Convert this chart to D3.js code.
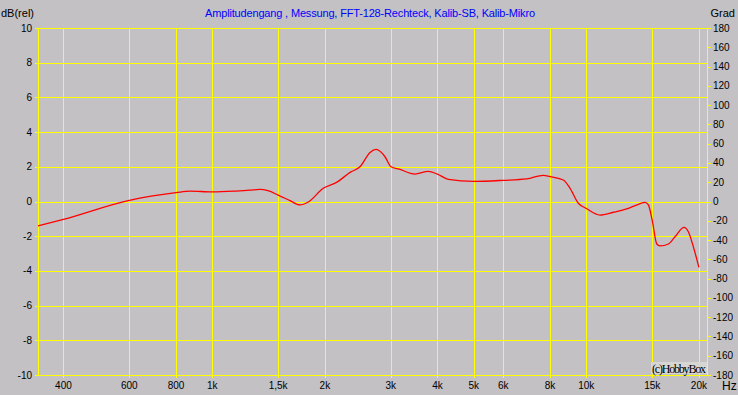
<!DOCTYPE html>
<html>
<head>
<meta charset="utf-8">
<script src="https://cdn.jsdelivr.net/npm/d3@7"></script>
<style>
  body { margin: 0; background: #c3c1c4; }
  svg { display: block; }
  .lbl { font-family: "Liberation Sans", Arial, sans-serif; font-size: 10px; fill: #000; }
</style>
</head>
<body>
<svg id="main_svg_container" width="738" height="395"></svg>
<script>
var freqs = [342, 400, 600, 800, 872, 1000, 1157, 1261, 1341, 1409, 1500, 1614, 1716, 1806,
  1980, 2150, 2336, 2482, 2641, 2741, 2896, 3005, 3162, 3483, 3780, 3997, 4276, 5000,
  6000, 6928, 7674, 8000, 8679, 9047, 9520, 10000, 10880, 11810, 12824, 13772, 14353,
  14650, 15000, 15430, 15740, 16570, 17260, 18250, 18740, 19320, 20000];
var levels = [-1.41, -1.03, 0.07, 0.51, 0.6, 0.55, 0.6, 0.65, 0.7, 0.62, 0.37, 0.05, -0.2, -0.03,
  0.76, 1.1, 1.68, 2.0, 2.83, 3.0, 2.58, 2.0, 1.86, 1.58, 1.74, 1.58, 1.28, 1.16,
  1.22, 1.3, 1.51, 1.43, 1.24, 0.76, -0.1, -0.4, -0.78, -0.62, -0.43, -0.16, -0.05,
  -0.2, -1.07, -2.45, -2.56, -2.45, -2.03, -1.49, -1.74, -2.6, -3.8];

var freq_ticks = [400, 600, 800, 1000, 1500, 2000, 3000, 4000, 5000, 6000, 8000, 10000, 15000, 20000];
var freq_tick_labels = ["400", "600", "800", "1k", "1,5k", "2k", "3k", "4k", "5k", "6k", "8k", "10k", "15k", "20k"];
var db_ticks = d3.range(-10, 11, 2);
var deg_ticks = d3.range(-180, 181, 20);

var title_text = "Amplitudengang , Messung, FFT-128-Rechteck, Kalib-SB, Kalib-Mikro";

var plot_left = 38, plot_right = 707, plot_top = 28, plot_bottom = 375;

var x = d3.scaleLog().domain([342, 21020]).range([plot_left, plot_right]);
var y = d3.scaleLinear().domain([-10, 10]).range([plot_bottom, plot_top]);
var y2 = d3.scaleLinear().domain([-180, 180]).range([plot_bottom, plot_top]);

var svg = d3.select("#main_svg_container");

// grid
var grid = svg.append("g").attr("shape-rendering", "crispEdges").attr("stroke", "#ffff00");
grid.selectAll(".vline").data(freq_ticks).enter().append("line")
    .attr("x1", function(d) { return Math.round(x(d)) + 0.5; })
    .attr("x2", function(d) { return Math.round(x(d)) + 0.5; })
    .attr("y1", plot_top).attr("y2", plot_bottom + 3);
grid.selectAll(".hline").data(db_ticks).enter().append("line")
    .attr("x1", plot_left - 3).attr("x2", plot_right)
    .attr("y1", function(d) { return Math.round(y(d)) + 0.5; })
    .attr("y2", function(d) { return Math.round(y(d)) + 0.5; });
grid.append("line").attr("x1", plot_left + 0.5).attr("x2", plot_left + 0.5)
    .attr("y1", plot_top).attr("y2", plot_bottom);
grid.append("line").attr("x1", plot_right + 0.5).attr("x2", plot_right + 0.5)
    .attr("y1", plot_top).attr("y2", plot_bottom);
grid.selectAll(".rtick").data(deg_ticks).enter().append("line")
    .attr("x1", plot_right).attr("x2", plot_right + 4)
    .attr("y1", function(d) { return Math.round(y2(d)) + 0.5; })
    .attr("y2", function(d) { return Math.round(y2(d)) + 0.5; });

// axis labels
svg.selectAll(".dblabel").data(db_ticks).enter().append("text")
    .attr("class", "lbl")
    .attr("x", 32).attr("y", function(d) { return y(d) + 3.5; })
    .attr("text-anchor", "end")
    .text(function(d) { return d; });

svg.selectAll(".deglabel").data(deg_ticks).enter().append("text")
    .attr("class", "lbl")
    .attr("x", 713).attr("y", function(d) { return y2(d) + 3.5; })
    .text(function(d) { return d; });

svg.selectAll(".flabel").data(freq_ticks).enter().append("text")
    .attr("class", "lbl")
    .attr("x", function(d) { return x(d); }).attr("y", 389)
    .attr("text-anchor", "middle")
    .text(function(d, i) { return freq_tick_labels[i]; });

svg.append("text").attr("class", "lbl").style("font-size", "11px")
    .attr("x", 1).attr("y", 17).text("dB(rel)");
svg.append("text").attr("class", "lbl").style("font-size", "11px")
    .attr("x", 735).attr("y", 17).attr("text-anchor", "end").text("Grad");
svg.append("text").attr("class", "lbl").style("font-size", "12px")
    .attr("x", 722).attr("y", 390).text("Hz");

svg.append("text").attr("class", "lbl").style("font-size", "11px").style("fill", "#0000ff")
    .attr("x", 205).attr("y", 17).attr("textLength", 330).text(title_text);

// copyright box
svg.append("rect").attr("x", 651).attr("y", 362).attr("width", 56).attr("height", 12)
    .attr("fill", "#d8d6d2");
svg.append("text")
    .attr("x", 652).attr("y", 373)
    .style("font-family", "'Liberation Serif', 'Times New Roman', serif")
    .style("font-size", "12px")
    .attr("textLength", 54)
    .text("(c)HobbyBox");

// curve
var pts = freqs.map(function(f, i) { return [f, levels[i]]; });
var line = d3.line()
    .x(function(d) { return x(d[0]); })
    .y(function(d) { return y(d[1]); })
    .curve(d3.curveMonotoneX);

svg.append("path")
    .datum(pts)
    .attr("fill", "none")
    .attr("stroke", "#ff0000")
    .attr("stroke-width", 1.3)
    .attr("d", line);
</script>
</body>
</html>
